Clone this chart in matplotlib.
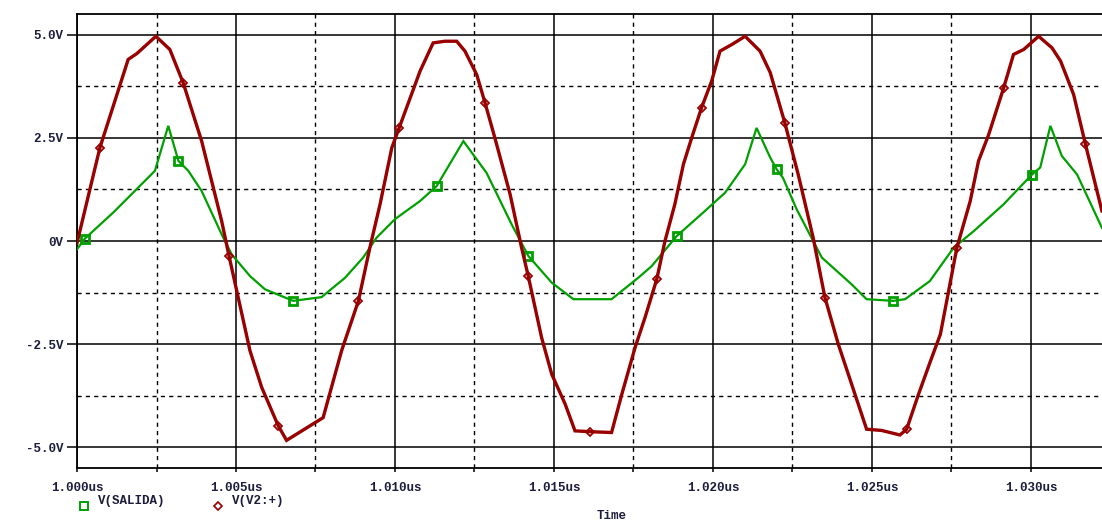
import numpy as np
import matplotlib
matplotlib.use("Agg")
import matplotlib.pyplot as plt
from matplotlib.lines import Line2D
from matplotlib.ticker import FixedLocator, FuncFormatter

# ---- transient simulation traces (time offsets in ns from 1.000 us) ----
T0_US = 1.000

salida_t_ns = [0, 0.25, 1.14, 2.45, 2.87, 3.19, 3.50, 3.92, 4.55, 4.86,
               5.44, 5.91, 6.8, 7.69, 8.43, 9.0, 9.42, 10.0, 10.79, 11.31,
               12.15, 12.88, 13.67, 14.19, 14.93, 15.61, 16.81, 17.65, 18.07, 18.86,
               19.75, 20.38, 21.01, 21.37, 21.8, 22.0, 22.2, 22.63, 23.15, 23.42,
               24.36, 24.83, 25.67, 26.04, 26.82, 27.57, 28.2, 29.14, 30.03, 30.29,
               30.61, 30.97, 31.45, 32.23]
salida_v = [-0.2, 0.06, 0.69, 1.70, 2.79, 1.94, 1.70, 1.21, 0.16, -0.32,
            -0.85, -1.17, -1.45, -1.36, -0.89, -0.40, 0.08, 0.53, 0.97, 1.33,
            2.42, 1.65, 0.40, -0.36, -1.01, -1.41, -1.41, -0.89, -0.61, 0.12,
            0.73, 1.17, 1.86, 2.74, 2.02, 1.74, 1.53, 0.77, 0.0, -0.40,
            -1.05, -1.41, -1.45, -1.41, -0.97, -0.16, 0.24, 0.89, 1.61, 1.78,
            2.79, 2.06, 1.61, 0.32]

v2_t_ns = [0, 0.72, 1.61, 1.88, 2.48, 2.92, 3.34, 3.92, 4.55, 4.78,
           5.44, 5.81, 6.33, 6.59, 7.74, 8.32, 8.85, 9.21, 9.53, 9.90,
           10.13, 10.79, 11.2, 11.57, 11.94, 12.2, 12.57, 12.83, 13.14, 13.62,
           13.98, 14.19, 14.61, 14.93, 15.35, 15.66, 16.13, 16.81, 17.13, 17.55,
           17.86, 18.23, 18.49, 18.8, 19.07, 19.33, 19.64, 19.96, 20.22, 20.59,
           21.01, 21.48, 21.8, 22.26, 22.68, 23.15, 23.52, 23.94, 24.36, 24.83,
           25.3, 25.88, 26.09, 26.46, 26.82, 27.15, 27.67, 28.09, 28.35, 28.67,
           29.14, 29.45, 29.77, 30.24, 30.66, 30.93, 31.34, 31.71, 32.23]
v2_v = [-0.05, 2.26, 4.40, 4.54, 4.96, 4.64, 3.83, 2.42, 0.48, -0.36,
        -2.66, -3.55, -4.48, -4.83, -4.28, -2.66, -1.45, -0.16, 0.89, 2.26,
        2.74, 4.12, 4.80, 4.84, 4.84, 4.60, 4.03, 3.35, 2.50, 1.13,
        -0.16, -0.85, -2.34, -3.23, -3.95, -4.60, -4.62, -4.64, -3.72, -2.58,
        -1.86, -0.93, 0.00, 0.89, 1.86, 2.50, 3.23, 3.88, 4.60, 4.76,
        4.96, 4.60, 4.08, 2.86, 1.61, 0.08, -1.37, -2.50, -3.47, -4.56,
        -4.59, -4.70, -4.56, -3.72, -2.95, -2.26, -0.16, 0.97, 1.94, 2.58,
        3.71, 4.52, 4.64, 4.96, 4.68, 4.36, 3.55, 2.35, 0.73]

# symbol positions along each trace
salida_mark_t_ns = [0.25, 3.19, 6.8, 11.31, 14.19, 18.86, 22.0, 25.67, 30.03]
salida_mark_v = [0.06, 1.94, -1.45, 1.33, -0.36, 0.12, 1.74, -1.45, 1.61]
v2_mark_t_ns = [0.72, 3.34, 4.78, 6.33, 8.85, 10.13, 12.83, 14.19, 16.13,
                18.23, 19.64, 22.26, 23.52, 26.09, 27.67, 29.14, 31.71]
v2_mark_v = [2.26, 3.83, -0.36, -4.48, -1.45, 2.74, 3.35, -0.85, -4.62,
             -0.93, 3.23, 2.86, -1.37, -4.56, -0.16, 3.71, 2.35]

trace_names = ["V(SALIDA)", "V(V2:+)"]
x_major = [1.000, 1.005, 1.010, 1.015, 1.020, 1.025, 1.030]
y_major = [-5.0, -2.5, 0.0, 2.5, 5.0]
y_labels = ["-5.0V", "-2.5V", "0V", "2.5V", "5.0V"]
x_title = "Time"


def to_us(ns):
    return T0_US + np.asarray(ns) * 1e-3


GREEN = "#00a000"
RED = "#990000"
TXT = "#1c1c3c"
FONT = dict(family="Liberation Mono", weight="bold", size=9)

W, H = 1102, 522
fig = plt.figure(figsize=(W / 100, H / 100), dpi=100)
fig.patch.set_facecolor("white")

# plot frame: left 77 px, top 14 px, bottom 468 px; right side runs past the edge
left_px, right_px, top_px, bot_px = 77, 1147, 14, 468
ax = fig.add_axes([left_px / W, (H - bot_px) / H,
                   (right_px - left_px) / W, (bot_px - top_px) / H])
ax.set_xlim(1.000, 1.000 + (right_px - left_px) / 31.8 / 1000)
ax.set_ylim(-5.5, 5.5)

ax.xaxis.set_major_locator(FixedLocator(x_major))
ax.xaxis.set_minor_locator(FixedLocator([x + 0.0025 for x in x_major]))
ax.yaxis.set_major_locator(FixedLocator(y_major))
ax.yaxis.set_minor_locator(FixedLocator([y + 1.25 for y in y_major[:-1]]))
ax.xaxis.set_major_formatter(FuncFormatter(lambda v, p: f"{v:.3f}us"))
ax.set_yticklabels(y_labels)

ax.grid(which="major", color="black", lw=1.1, ls="-", zorder=1)
ax.grid(which="minor", color="black", lw=1.0, ls=(0, (3, 3)), zorder=1)
ax.set_axisbelow(True)

ax.tick_params(axis="y", which="major", direction="out", length=7, width=1.1,
               pad=3, colors="black", labelcolor=TXT)
ax.tick_params(axis="y", which="minor", length=0)
ax.tick_params(axis="x", which="both", direction="out", length=3, width=1.1,
               pad=7, colors="black", labelcolor=TXT)
for lab in ax.get_xticklabels() + ax.get_yticklabels():
    lab.set_fontfamily(FONT["family"])
    lab.set_fontweight(FONT["weight"])
    lab.set_fontsize(FONT["size"])

for side in ("left", "top", "bottom"):
    ax.spines[side].set_color("black")
    ax.spines[side].set_linewidth(1.3)
ax.spines["right"].set_visible(False)

# traces
ax.plot(to_us(salida_t_ns), salida_v, color=GREEN, lw=1.6, zorder=3,
        solid_joinstyle="miter")
ax.plot(to_us(salida_mark_t_ns), salida_mark_v, ls="none", marker="s", ms=5.5,
        mfc="none", mec=GREEN, mew=2.0, zorder=3)
ax.plot(to_us(v2_t_ns), v2_v, color=RED, lw=2.4, zorder=4,
        solid_joinstyle="miter")
ax.plot(to_us(v2_mark_t_ns), v2_mark_v, ls="none", marker="D", ms=4.0,
        mfc="none", mec=RED, mew=1.3, zorder=4)

# axis title
fig.text(612 / W, 1 - 516 / H, x_title, ha="center", va="center",
         color=TXT, **FONT)

# legend row
fig.add_artist(Line2D([84 / W], [1 - 506 / H], transform=fig.transFigure,
                      marker="s", ms=5.5, mfc="none", mec=GREEN, mew=1.4, ls="none"))
fig.text(98 / W, 1 - 501 / H, trace_names[0], ha="left", va="center",
         color=TXT, **FONT)
fig.add_artist(Line2D([218 / W], [1 - 506 / H], transform=fig.transFigure,
                      marker="D", ms=4.5, mfc="none", mec=RED, mew=1.2, ls="none"))
fig.text(232 / W, 1 - 501 / H, trace_names[1], ha="left", va="center",
         color=TXT, **FONT)

fig.savefig("out.png", dpi=100, facecolor="white")
